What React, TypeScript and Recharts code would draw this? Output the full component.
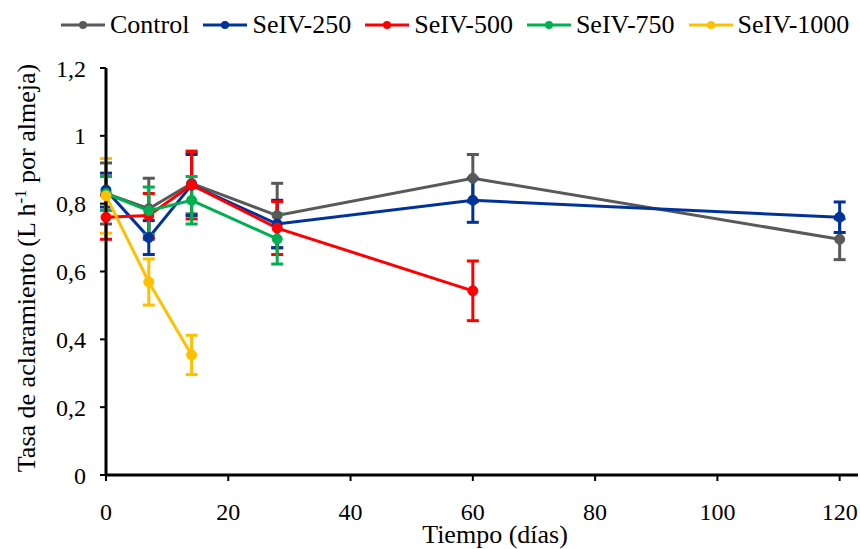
import React from 'react';
import { LineChart, Line, XAxis, YAxis, ErrorBar, Legend } from 'recharts';

// Días de muestreo
const days = [0, 7, 14, 28, 60, 120];

// Tasa de aclaramiento (L h-1 por almeja) y error de cada tratamiento
const control = [0.83, 0.785, 0.86, 0.765, 0.875, 0.695];
const controlErr = [0.09, 0.09, 0.09, 0.095, 0.07, 0.06];
const seiv250 = [0.84, 0.70, 0.855, 0.74, 0.81, 0.76];
const seiv250Err = [0.05, 0.05, 0.09, 0.07, 0.065, 0.045];
const seiv500 = [0.76, 0.765, 0.855, 0.728, 0.543];
const seiv500Err = [0.065, 0.065, 0.1, 0.078, 0.088];
const seiv750 = [0.83, 0.779, 0.81, 0.696];
const seiv750Err = [0.05, 0.07, 0.07, 0.074];
const seiv1000 = [0.823, 0.569, 0.354];
const seiv1000Err = [0.11, 0.068, 0.058];

const xTicks = [0, 20, 40, 60, 80, 100, 120];
const yTicks = [0, 0.2, 0.4, 0.6, 0.8, 1, 1.2];

const series = [
  { key: 'control', name: 'Control', color: '#595959', values: control, errors: controlErr },
  { key: 's250', name: 'SeIV-250', color: '#00339A', values: seiv250, errors: seiv250Err },
  { key: 's500', name: 'SeIV-500', color: '#FF0000', values: seiv500, errors: seiv500Err },
  { key: 's750', name: 'SeIV-750', color: '#00B050', values: seiv750, errors: seiv750Err },
  { key: 's1000', name: 'SeIV-1000', color: '#FFC000', values: seiv1000, errors: seiv1000Err },
];

const data = days.map((day, i) => {
  const row: Record<string, number | null> = { day };
  series.forEach(s => {
    row[s.key] = i < s.values.length ? s.values[i] : null;
    row[s.key + 'Err'] = i < s.errors.length ? s.errors[i] : null;
  });
  return row;
});

const FONT = 'Liberation Serif, DejaVu Serif, serif';

const fmt = (v: number) => String(v).replace('.', ',');

// fixed 68px box so the plot starts at y=68; items placed inside it
const LegendContent = () => (
  <div style={{ height: 68, width: 860 }}>
    <div style={{ position: 'relative', top: 11, display: 'flex', flexWrap: 'nowrap', paddingLeft: 61, fontFamily: FONT, fontSize: 26, lineHeight: '28px', color: '#000', whiteSpace: 'nowrap' }}>
      {series.map(s => (
        <div key={s.key} style={{ display: 'flex', alignItems: 'center', marginRight: 14, flexShrink: 0 }}>
          <svg width={44} height={14} style={{ marginRight: 5 }}>
            <line x1={0} y1={7} x2={44} y2={7} stroke={s.color} strokeWidth={3} />
            <circle cx={22} cy={7} r={4} fill={s.color} />
          </svg>
          <span>{s.name}</span>
        </div>
      ))}
    </div>
  </div>
);

const YTitle = () => (
  <text x={35} y={268} transform="rotate(-90 35 268)" textAnchor="middle" fontFamily={FONT} fontSize={26} fill="#000">
    Tasa de aclaramiento (L h<tspan dy={-9} fontSize={17}>-1</tspan><tspan dy={9}> por almeja)</tspan>
  </text>
);

const XTitle = () => (
  <text x={495} y={543} textAnchor="middle" fontFamily={FONT} fontSize={26} fill="#000">
    Tiempo (días)
  </text>
);

export default function App() {
  return (
    <div style={{ position: 'absolute', left: 0, top: 0, background: '#fff' }}>
      <LineChart width={860} height={549} data={data} margin={{ top: 0, right: 2, left: 0, bottom: 0 }}>
        <Legend verticalAlign="top" align="left" content={LegendContent} wrapperStyle={{ top: 0, left: 0, width: 860 }} />
        <XAxis
          type="number"
          dataKey="day"
          domain={[0, 123]}
          ticks={xTicks}
          height={74}
          tickSize={6}
          tickMargin={22}
          axisLine={{ stroke: '#000', strokeWidth: 3 }}
          tickLine={{ stroke: '#000', strokeWidth: 2 }}
          tick={{ fill: '#000', fontSize: 24, fontFamily: FONT }}
          label={<XTitle />}
        />
        <YAxis
          type="number"
          domain={[0, 1.2]}
          ticks={yTicks}
          width={106}
          tickSize={6}
          tickMargin={14}
          tickFormatter={fmt}
          axisLine={{ stroke: '#000', strokeWidth: 3 }}
          tickLine={{ stroke: '#000', strokeWidth: 2 }}
          tick={{ fill: '#000', fontSize: 24, fontFamily: FONT }}
          label={<YTitle />}
        />
        {series.map(s => (
          <Line
            key={s.key}
            dataKey={s.key}
            name={s.name}
            stroke={s.color}
            strokeWidth={3}
            dot={{ r: 5, fill: s.color, stroke: s.color, strokeWidth: 1 }}
            activeDot={false}
            isAnimationActive={false}
          >
            <ErrorBar dataKey={s.key + 'Err'} direction="y" width={6} stroke={s.color} strokeWidth={3} />
          </Line>
        ))}
      </LineChart>
    </div>
  );
}
